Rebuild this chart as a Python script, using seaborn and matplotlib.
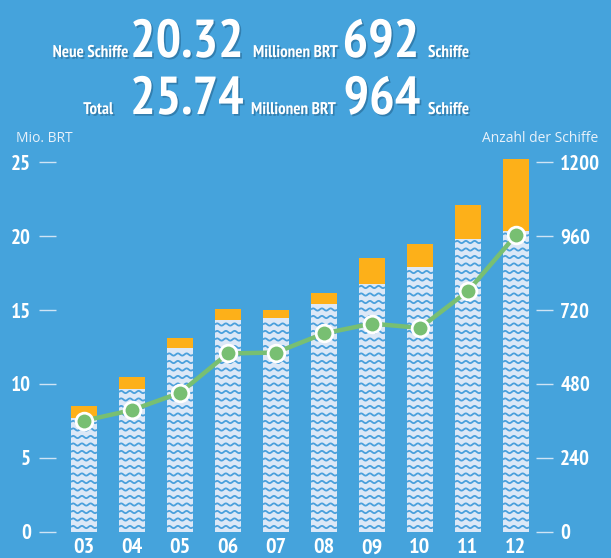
import numpy as np
import seaborn as sns
import matplotlib
matplotlib.use("Agg")
import matplotlib.pyplot as plt
import matplotlib.patheffects as pe
from matplotlib.collections import LineCollection
from matplotlib import font_manager

# data
years = ["03", "04", "05", "06", "07", "08", "09", "10", "11", "12"]
total_brt = [8.52, 10.47, 13.13, 15.07, 15.0, 16.16, 18.55, 19.48, 22.12, 25.24]   # Mio. BRT, whole bar
new_brt = [7.71, 9.65, 12.45, 14.33, 14.49, 15.39, 16.77, 17.9, 19.8, 20.38]      # Mio. BRT, white part
ships = [360, 395, 451, 579, 582, 644, 676, 662, 782, 964]                         # Anzahl der Schiffe
left_ticks = [0, 5, 10, 15, 20, 25]
right_ticks = [0, 240, 480, 720, 960, 1200]

bg = "#45a3dc"
orange = "#fdb019"
light = "#dce8f7"
wave = "#4aa0dc"
green = "#78bf72"
tickc = "#cfe4f5"

names = {f.name for f in font_manager.fontManager.ttflist}
narrow = "DejaVu Sans"
for cand in ["PT Sans Narrow", "Fira Sans Extra Condensed", "Fira Sans Condensed",
             "Roboto Condensed", "Open Sans Condensed", "Archivo Narrow",
             "Encode Sans Condensed", "Barlow Semi Condensed", "Liberation Sans Narrow"]:
    if cand in names:
        narrow = cand
        break
plain = "Open Sans" if "Open Sans" in names else "DejaVu Sans"
plt.rcParams["font.family"] = [narrow, "DejaVu Sans"]

W, H = 611, 558
fig = plt.figure(figsize=(W / 100, H / 100), dpi=100, facecolor=bg)
ax = fig.add_axes([60 / W, 26.5 / H, 472.8 / W, 383.8 / H])
ax.set_facecolor(bg)

sns.barplot(x=years, y=total_brt, color=orange, width=0.54, saturation=1, ax=ax)
sns.barplot(x=years, y=new_brt, color=light, width=0.54, saturation=1, ax=ax)
ax.set_xlim(-0.5, 9.35)
ax.set_ylim(0, 26)

# wave pattern inside the white parts of the bars (pixel sizes -> data units)
px_x = 9.85 / 472.8
px_y = 26 / 383.8
for p in ax.patches:
    if p.get_facecolor()[0] > 0.8 and p.get_facecolor()[2] > 0.9:
        x0, w, h = p.get_x(), p.get_width(), p.get_height()
        xs = np.linspace(x0, x0 + w, 200)
        segs = []
        y = 4.5 * px_y
        while y < h - 2.5 * px_y:
            ys = y + 1.1 * px_y * np.sin(2 * np.pi * (xs - x0) / (8.7 * px_x))
            segs.append(np.column_stack([xs, ys]))
            y += 7.5 * px_y
        lc = LineCollection(segs, colors=wave, linewidths=1.3, zorder=3)
        ax.add_collection(lc)
        lc.set_clip_path(p)

ax2 = ax.twinx()
sns.lineplot(x=np.arange(len(ships)), y=ships, ax=ax2, color=green, lw=3.2,
             marker="o", markersize=12, markerfacecolor=green,
             markeredgecolor="white", markeredgewidth=2, zorder=5)
ax2.set_ylim(0, 1248)
ax.set_xlim(-0.5, 9.35)

for a in (ax, ax2):
    for s in a.spines.values():
        s.set_visible(False)
    a.set_xlabel("")
    a.set_ylabel("")
ax.spines["left"].set_position(("outward", 3))
ax2.spines["right"].set_position(("outward", 2))

ax.set_yticks(left_ticks)
ax.set_yticklabels([str(t) for t in left_ticks])
ax2.set_yticks(right_ticks)
ax2.set_yticklabels([str(t) for t in right_ticks])
ax.tick_params(axis="y", length=12, width=1, color=tickc, pad=5.8,
               labelcolor="white", labelsize=15)
ax2.tick_params(axis="y", length=12, width=1, color=tickc, pad=5.8,
                labelcolor="white", labelsize=15)
ax.tick_params(axis="x", length=0, pad=5, labelcolor="white", labelsize=16)
for lab in ax.get_yticklabels() + ax2.get_yticklabels() + ax.get_xticklabels():
    lab.set_fontweight("bold")

fig.text(16 / W, 1 - 138 / H, "Mio. BRT", color="#e8f1fa", fontsize=10,
         va="center", ha="left", family=[plain, "DejaVu Sans"])
fig.text(598 / W, 1 - 138 / H, "Anzahl der Schiffe", color="#e8f1fa", fontsize=10,
         va="center", ha="right", family=[plain, "DejaVu Sans"])

shadow = [pe.SimplePatchShadow(offset=(1.2, -1.2), shadow_rgbFace="#2a6f9c", alpha=0.7), pe.Normal()]
def head(x, y, s, size, ha="left"):
    fig.text(x / W, 1 - y / H, s, color="white", fontsize=size, fontweight="bold",
             ha=ha, va="baseline", path_effects=shadow)

head(128, 57, "Neue Schiffe", 12.2, "right")
head(187, 57, "20.32", 38.5, "center")
head(253, 57, "Millionen BRT", 12.2)
head(381, 57, "692", 38.5, "center")
head(428, 57, "Schiffe", 12.2)
head(113, 114, "Total", 12.2, "right")
head(187, 114, "25.74", 38.5, "center")
head(251, 114, "Millionen BRT", 12.2)
head(382, 114, "964", 38.5, "center")
head(428, 114, "Schiffe", 12.2)

fig.savefig("out.png", dpi=100, facecolor=bg)
